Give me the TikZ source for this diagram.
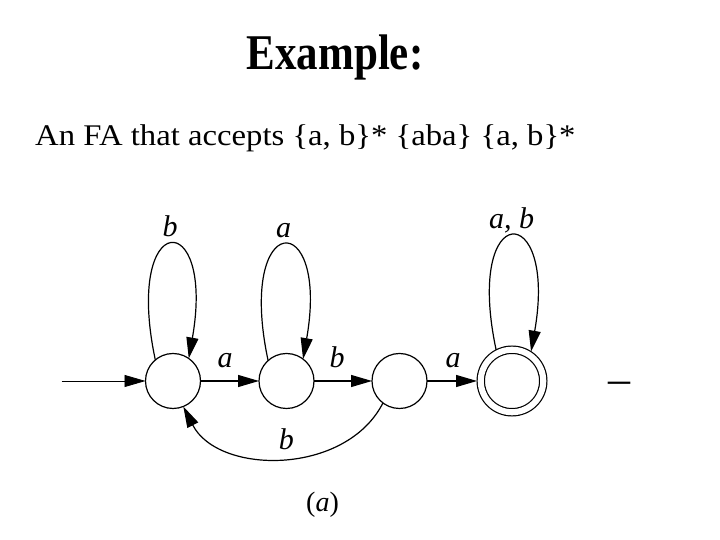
\documentclass[tikz,border=0pt]{standalone}
\usepackage{fontspec}
\setmainfont{Liberation Serif}
\usetikzlibrary{positioning, arrows.meta}

\begin{document}
\begin{tikzpicture}[
    x=1pt, y=1pt,
    state/.style={draw, circle, minimum size=55pt, inner sep=0pt, outer sep=0pt, line width=1.2pt},
    accepting/.style={state, minimum size=62.5pt, double, double distance=6.1pt, outer sep=3.75pt},
    arrow/.style={-{Triangle[length=21pt, width=12pt]}, line width=1.2pt},
    lbl/.style={font=\fontsize{30}{36}\selectfont\itshape, inner sep=1pt, text height=21pt, text depth=0pt}
]

\useasboundingbox (0,0) rectangle (720,540);

\node[anchor=base] (title) at (335,470) {\fontsize{50}{60}\selectfont\bfseries\scalebox{0.86}[1]{Example:}};
\node[anchor=base west] (sub) at (31.7,394) {\fontsize{30}{36}\selectfont\scalebox{1.09}[1]{An FA that accepts \{a, b\}* \{aba\} \{a, b\}*}};

\node[state] (q0) at (173,159) {};
\node[state] (q1) [right=58.5pt of q0] {};
\node[state] (q2) [right=58pt of q1] {};
\node[accepting] (q3) [right=50pt of q2] {};
\coordinate[left=84pt of q0] (start);

\node[anchor=north, inner sep=0pt, font=\fontsize{44}{50}\selectfont] (dash) at (619,158.3) {–};
\node[anchor=base, font=\fontsize{28}{34}\selectfont] (caption) at (322.5,28) {(\textit{a})};

\draw[arrow, line width=0.8pt] (start) -- (q0);
\draw[arrow] (q0) -- node[lbl, above=12pt, pos=0.42] {a} (q1);
\draw[arrow] (q1) -- node[lbl, above=12pt, pos=0.4] {b} (q2);
\draw[arrow] (q2) -- node[lbl, above=12pt, pos=0.52] {a} (q3);

\draw[arrow] (q0.130) .. controls +(102:155) and +(80:155) .. node[lbl, above=7pt] {b} (q0.55);
\draw[arrow] (q1.132) .. controls +(102:155) and +(80:155) .. node[lbl, above=7pt] {a} (q1.53);
\draw[arrow] (q3.117) .. controls +(102:155) and +(80:155) .. node[lbl, above=7pt] {a, b} (q3.57);
\draw[arrow] (q2.233) .. controls +(243:82) and +(297:77) .. node[lbl, above=7pt, xshift=4pt] {b} (q0.292);

\end{tikzpicture}
\end{document}
